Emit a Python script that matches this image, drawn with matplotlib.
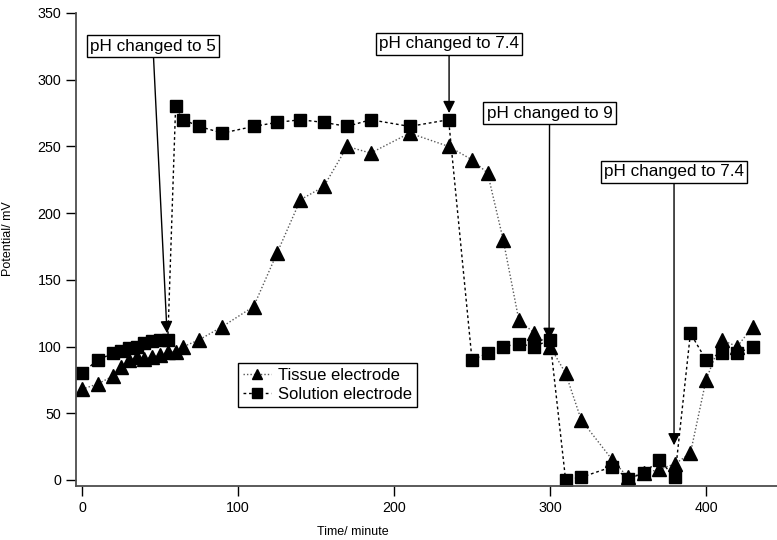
import numpy as np
import matplotlib.pyplot as plt

plt.rcParams['font.family'] = ['Liberation Sans', 'DejaVu Sans']

time = [0, 10, 20, 25, 30, 35, 40, 45, 50, 55, 60, 65, 75, 90, 110, 125, 140, 155,
        170, 185, 210, 235, 250, 260, 270, 280, 290, 300, 310, 320, 340, 350, 360,
        370, 380, 390, 400, 410, 420, 430]

tissue = [68, 72, 78, 85, 90, 92, 91, 92, 94, 96, 96, 100, 105, 115, 130, 170, 210, 220,
          250, 245, 260, 250, 240, 230, 180, 120, 110, 100, 80, 45, 15, 2, 5,
          8, 12, 20, 75, 105, 100, 115]

solution = [80, 90, 95, 97, 99, 100, 103, 104, 105, 105, 280, 270, 265, 260, 265, 268, 270, 268,
            265, 270, 265, 270, 90, 95, 100, 102, 100, 105, 0, 2, 10, 1, 5,
            15, 2, 110, 90, 95, 95, 100]

# label, text position, arrow tip
notes = [
    ("pH changed to 5", (45.5, 325), (54.5, 110)),
    ("pH changed to 7.4", (235.3, 327), (235.3, 275)),
    ("pH changed to 9", (299.7, 275), (299.4, 105)),
    ("pH changed to 7.4", (379.5, 231), (379.5, 26)),
]

fig = plt.figure(figsize=(7.77, 5.4), dpi=100)
ax = fig.add_axes([76 / 777, 54 / 540, 701 / 777, 473 / 540])

ax.plot(time, tissue, marker='^', markersize=9.5, color='0.35', mfc='black', mec='black',
        linestyle=(0, (1, 1.5)), lw=1, label='Tissue electrode')
ax.plot(time, solution, marker='s', markersize=9, color='black', mfc='black', mec='black',
        linestyle=(0, (2, 2)), lw=1, label='Solution electrode')

for label, xytext, xy in notes:
    ax.annotate(label, xy=xy, xytext=xytext, ha='center', va='center', fontsize=12.3,
                bbox=dict(boxstyle='square,pad=0.2', fc='white', ec='black', lw=1),
                arrowprops=dict(arrowstyle='-|>', color='black', lw=1,
                                mutation_scale=18, shrinkA=0, shrinkB=0))

ax.set_xlim(-3.85, 445.5)
ax.set_ylim(-4.5, 350)
ax.set_xticks(np.arange(0, 401, 100))
ax.set_yticks(np.arange(0, 351, 50))
ax.tick_params(direction='out', length=7, width=1, labelsize=10.3, colors='black')
for s in ['top', 'right']:
    ax.spines[s].set_visible(False)
for s in ['left', 'bottom']:
    ax.spines[s].set_linewidth(1.3)
    ax.spines[s].set_color('0.3')

ax.set_xlabel('Time/ minute', fontsize=9)
ax.set_ylabel('Potential/ mV', fontsize=9)
ax.xaxis.set_label_coords(0.395, -0.085)
ax.yaxis.set_label_coords(-0.088, 0.524)

leg = ax.legend(loc='upper left', bbox_to_anchor=(0.231, 0.260), borderaxespad=0, fontsize=12,
                handlelength=1.7, handletextpad=0.4, borderpad=0.3, labelspacing=0.25,
                markerscale=0.8, fancybox=False, framealpha=1, edgecolor='black')
leg.get_frame().set_linewidth(1)

fig.savefig('out.png', dpi=100)
